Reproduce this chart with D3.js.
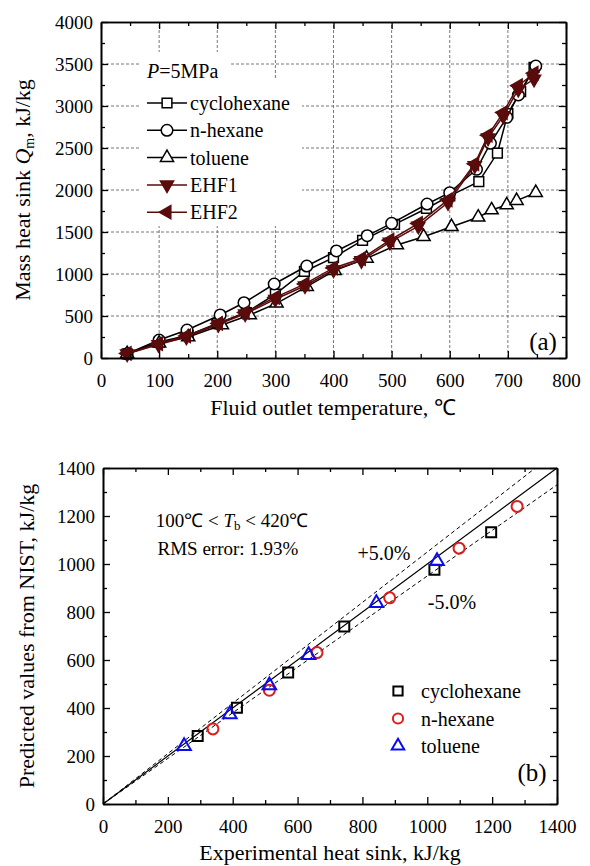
<!DOCTYPE html>
<html>
<head>
<meta charset="utf-8">
<script src="https://cdn.jsdelivr.net/npm/d3@7"></script>
<style>
  body { margin: 0; background: #fff; }
  svg text { font-family: "Liberation Serif", "Times New Roman", Times, serif; fill: #000; }
</style>
</head>
<body>
<script>
// ---------------------------------------------------------------------------
// data for chart (a): mass heat sink vs fluid outlet temperature
// ---------------------------------------------------------------------------
var seriesNamesA = ["cyclohexane", "n-hexane", "toluene", "EHF1", "EHF2"];

var tempCyclo = [45, 100, 150, 200, 250, 300, 350, 400, 450, 505, 560, 600, 650, 682, 700, 722, 745];
var qCyclo = [50, 190, 270, 410, 540, 760, 1030, 1195, 1400, 1590, 1780, 1930, 2100, 2440, 2910, 3170, 3460];

var tempHex = [45, 100, 148, 205, 246, 298, 354, 405, 458, 500, 561, 600, 646, 670, 698, 718, 748];
var qHex = [50, 214, 333, 512, 658, 881, 1095, 1274, 1456, 1603, 1833, 1968, 2246, 2556, 2865, 3131, 3476];

var tempTol = [45, 100, 150, 208, 256, 302, 354, 402, 457, 509, 555, 603, 649, 672, 698, 715, 748];
var qTol = [50, 175, 250, 393, 512, 651, 849, 1040, 1186, 1345, 1444, 1563, 1675, 1762, 1821, 1873, 1968];

var tempEHF1 = [45, 99, 147, 202, 248, 300, 351, 400, 448, 497, 546, 597, 643, 666, 692, 718, 745];
var qEHF1 = [50, 160, 250, 400, 525, 700, 860, 1050, 1160, 1380, 1570, 1850, 2290, 2620, 2880, 3200, 3320];

var tempEHF2 = [45, 99, 147, 202, 248, 300, 351, 400, 448, 497, 546, 597, 643, 666, 692, 718, 745];
var qEHF2 = [55, 170, 262, 412, 542, 722, 882, 1072, 1182, 1402, 1602, 1882, 2312, 2652, 2922, 3242, 3390];

var xTicksA = [0, 100, 200, 300, 400, 500, 600, 700, 800];
var yTicksA = [0, 500, 1000, 1500, 2000, 2500, 3000, 3500, 4000];

// ---------------------------------------------------------------------------
// data for chart (b): predicted vs experimental heat sink
// ---------------------------------------------------------------------------
var seriesNamesB = ["cyclohexane", "n-hexane", "toluene"];

var expCyclo = [292, 413, 571, 744, 1022, 1197];
var predCyclo = [283, 401, 548, 740, 976, 1132];

var expHex = [339, 513, 660, 884, 1098, 1277];
var predHex = [313, 474, 631, 859, 1066, 1240];

var expTol = [250, 391, 513, 634, 843, 1030];
var predTol = [241, 374, 494, 620, 837, 1012];

var ticksB = [0, 200, 400, 600, 800, 1000, 1200, 1400];
var errorBand = [1.05, 0.95];

// ---------------------------------------------------------------------------
var darkRed = "#5a0b0b";
var serif = "'Liberation Serif', 'Times New Roman', Times, serif";
var tickFont = 19;

var svg = d3.select("body").append("svg")
    .attr("width", 590)
    .attr("height", 866)
    .attr("font-family", serif);

function zip(xs, ys) {
    return xs.map(function(x, i){ return {x: x, y: ys[i]}; });
}

// draws 4-sided frame with inward major + minor ticks
function drawFrame(g, x, y, xMajor, yMajor, xMinorStep, yMinorStep) {
    var x0 = x.range()[0], x1 = x.range()[1];
    var y0 = y.range()[0], y1 = y.range()[1];
    var xd = x.domain(), yd = y.domain();
    var xMinor = d3.range(xd[0], xd[1] + 1e-9, xMinorStep).filter(function(v){ return xMajor.indexOf(v) < 0; });
    var yMinor = d3.range(yd[0], yd[1] + 1e-9, yMinorStep).filter(function(v){ return yMajor.indexOf(v) < 0; });
    var fmt = d3.format("d");

    // bottom
    g.append("g").attr("transform", "translate(0," + y0 + ")")
        .call(d3.axisBottom(x).tickValues(xMajor).tickFormat(fmt).tickSizeInner(-7).tickSizeOuter(0).tickPadding(16))
        .call(styleAxis);
    g.append("g").attr("transform", "translate(0," + y0 + ")")
        .call(d3.axisBottom(x).tickValues(xMinor).tickSizeInner(-4).tickSizeOuter(0).tickFormat(""))
        .call(styleAxis);
    // top
    g.append("g").attr("transform", "translate(0," + y1 + ")")
        .call(d3.axisTop(x).tickValues(xMajor).tickSizeInner(-7).tickSizeOuter(0).tickFormat(""))
        .call(styleAxis);
    g.append("g").attr("transform", "translate(0," + y1 + ")")
        .call(d3.axisTop(x).tickValues(xMinor).tickSizeInner(-4).tickSizeOuter(0).tickFormat(""))
        .call(styleAxis);
    // left
    g.append("g").attr("transform", "translate(" + x0 + ",0)")
        .call(d3.axisLeft(y).tickValues(yMajor).tickFormat(fmt).tickSizeInner(-7).tickSizeOuter(0).tickPadding(8))
        .call(styleAxis);
    g.append("g").attr("transform", "translate(" + x0 + ",0)")
        .call(d3.axisLeft(y).tickValues(yMinor).tickSizeInner(-4).tickSizeOuter(0).tickFormat(""))
        .call(styleAxis);
    // right
    g.append("g").attr("transform", "translate(" + x1 + ",0)")
        .call(d3.axisRight(y).tickValues(yMajor).tickSizeInner(-7).tickSizeOuter(0).tickFormat(""))
        .call(styleAxis);
    g.append("g").attr("transform", "translate(" + x1 + ",0)")
        .call(d3.axisRight(y).tickValues(yMinor).tickSizeInner(-4).tickSizeOuter(0).tickFormat(""))
        .call(styleAxis);
}

function styleAxis(sel) {
    sel.attr("font-family", serif).attr("font-size", tickFont);
    sel.select(".domain").attr("stroke", "#000").attr("stroke-width", 1.6);
    sel.selectAll(".tick line").attr("stroke", "#000").attr("stroke-width", 1.3);
    sel.selectAll(".tick text")
        .style("font-family", serif)
        .style("font-size", tickFont + "px")
        .attr("fill", "#000");
}

// ===========================================================================
// chart (a)
// ===========================================================================
var xA = d3.scaleLinear().domain([0, 800]).range([101, 566]);
var yA = d3.scaleLinear().domain([0, 4000]).range([358, 22]);
var gA = svg.append("g");

// dashed grid
gA.selectAll(".vgrid").data(xTicksA.slice(1, -1)).enter().append("line")
    .attr("x1", function(d){ return xA(d); }).attr("x2", function(d){ return xA(d); })
    .attr("y1", yA(0)).attr("y2", yA(4000))
    .attr("stroke", "#777").attr("stroke-width", 1).attr("stroke-dasharray", "3,2");
gA.selectAll(".hgrid").data(yTicksA.slice(1, -1)).enter().append("line")
    .attr("x1", xA(0)).attr("x2", xA(800))
    .attr("y1", function(d){ return yA(d); }).attr("y2", function(d){ return yA(d); })
    .attr("stroke", "#777").attr("stroke-width", 1).attr("stroke-dasharray", "3,2");

// white boxes behind the legend text
gA.append("rect").attr("x", 140).attr("y", 52).attr("width", 90).attr("height", 30).attr("fill", "#fff");
gA.append("rect").attr("x", 140).attr("y", 80).attr("width", 162).attr("height", 146).attr("fill", "#fff");

var seriesA = [
    {name: "cyclohexane", pts: zip(tempCyclo, qCyclo), color: "#000", fill: "#fff", sym: d3.symbolSquare, size: 95, rot: 0},
    {name: "n-hexane", pts: zip(tempHex, qHex), color: "#000", fill: "#fff", sym: d3.symbolCircle, size: 105, rot: 0},
    {name: "toluene", pts: zip(tempTol, qTol), color: "#000", fill: "#fff", sym: d3.symbolTriangle, size: 75, rot: 0},
    {name: "EHF1", pts: zip(tempEHF1, qEHF1), color: darkRed, fill: darkRed, sym: d3.symbolTriangle, size: 75, rot: 180},
    {name: "EHF2", pts: zip(tempEHF2, qEHF2), color: darkRed, fill: darkRed, sym: d3.symbolTriangle, size: 75, rot: -90}
];

var lineA = d3.line().x(function(d){ return xA(d.x); }).y(function(d){ return yA(d.y); });

seriesA.forEach(function(s){
    gA.append("path").datum(s.pts)
        .attr("d", lineA)
        .attr("fill", "none")
        .attr("stroke", s.color)
        .attr("stroke-width", 1.5);
    gA.selectAll(null).data(s.pts).enter().append("path")
        .attr("d", d3.symbol().type(s.sym).size(s.size))
        .attr("transform", function(d){
            return "translate(" + xA(d.x) + "," + yA(d.y) + ") rotate(" + s.rot + ")";
        })
        .attr("fill", s.fill)
        .attr("stroke", s.color)
        .attr("stroke-width", 1.5);
});

// legend (a)
var pText = gA.append("text").attr("x", 147).attr("y", 78).style("font-size", "20px");
pText.append("tspan").style("font-style", "italic").text("P");
pText.append("tspan").text("=5MPa");

seriesA.forEach(function(s, i){
    var ly = 103 + i * 27.3;
    gA.append("line")
        .attr("x1", 147).attr("x2", 187).attr("y1", ly).attr("y2", ly)
        .attr("stroke", s.color).attr("stroke-width", 1.5);
    gA.append("path")
        .attr("d", d3.symbol().type(s.sym).size(s.size))
        .attr("transform", "translate(167," + ly + ") rotate(" + s.rot + ")")
        .attr("fill", s.fill)
        .attr("stroke", s.color)
        .attr("stroke-width", 1.5);
    gA.append("text")
        .attr("x", 190).attr("y", ly + 7)
        .style("font-size", "20px")
        .text(s.name);
});

drawFrame(gA, xA, yA, xTicksA, yTicksA, 50, 250);

gA.append("text").attr("x", 543).attr("y", 350).attr("text-anchor", "middle")
    .style("font-size", "25px").text("(a)");

gA.append("text").attr("x", 333).attr("y", 415).attr("text-anchor", "middle")
    .style("font-size", "22px").text("Fluid outlet temperature, \u2103");

var yLabA = gA.append("text")
    .attr("transform", "translate(30,190) rotate(-90)")
    .attr("text-anchor", "middle")
    .style("font-size", "22px");
yLabA.append("tspan").text("Mass heat sink ");
yLabA.append("tspan").style("font-style", "italic").text("Q");
yLabA.append("tspan").attr("baseline-shift", "-25%").style("font-size", "14px").text("m");
yLabA.append("tspan").text(", kJ/kg");

// ===========================================================================
// chart (b)
// ===========================================================================
var xB = d3.scaleLinear().domain([0, 1400]).range([103, 557]);
var yB = d3.scaleLinear().domain([0, 1400]).range([804, 468]);
var gB = svg.append("g");

// parity line and +/-5% lines, clipped to the plot box
gB.append("clipPath").attr("id", "clipB").append("rect")
    .attr("x", xB(0)).attr("y", yB(1400))
    .attr("width", xB(1400) - xB(0)).attr("height", yB(0) - yB(1400));

gB.append("line")
    .attr("x1", xB(0)).attr("y1", yB(0)).attr("x2", xB(1400)).attr("y2", yB(1400))
    .attr("stroke", "#000").attr("stroke-width", 1.2);

errorBand.forEach(function(f){
    gB.append("line")
        .attr("clip-path", "url(#clipB)")
        .attr("x1", xB(0)).attr("y1", yB(0))
        .attr("x2", xB(1400)).attr("y2", yB(1400 * f))
        .attr("stroke", "#000").attr("stroke-width", 1)
        .attr("stroke-dasharray", "4,3");
});

var seriesB = [
    {name: "cyclohexane", pts: zip(expCyclo, predCyclo), color: "#000", sym: d3.symbolSquare, size: 100},
    {name: "n-hexane", pts: zip(expHex, predHex), color: "#dd1c1c", sym: d3.symbolCircle, size: 95},
    {name: "toluene", pts: zip(expTol, predTol), color: "#0b0bf0", sym: d3.symbolTriangle, size: 80}
];

seriesB.forEach(function(s, i){
    gB.selectAll(null).data(s.pts).enter().append("path")
        .attr("d", d3.symbol().type(s.sym).size(s.size))
        .attr("transform", function(d){ return "translate(" + xB(d.x) + "," + yB(d.y) + ")"; })
        .attr("fill", "none")
        .attr("stroke", s.color)
        .attr("stroke-width", 2);

    var ly = 691 + i * 27.5;
    gB.append("path")
        .attr("d", d3.symbol().type(s.sym).size(s.size * 0.85))
        .attr("transform", "translate(398," + ly + ")")
        .attr("fill", "none")
        .attr("stroke", s.color)
        .attr("stroke-width", 2);
    gB.append("text")
        .attr("x", 421).attr("y", ly + 7)
        .style("font-size", "20px")
        .text(s.name);
});

drawFrame(gB, xB, yB, ticksB, ticksB, 100, 100);

var tbText = gB.append("text").attr("x", 232).attr("y", 527).attr("text-anchor", "middle")
    .style("font-size", "19px");
tbText.append("tspan").text("100\u2103 < ");
tbText.append("tspan").style("font-style", "italic").text("T");
tbText.append("tspan").attr("baseline-shift", "-25%").style("font-size", "13px").text("b");
tbText.append("tspan").text(" < 420\u2103");

gB.append("text").attr("x", 228).attr("y", 555).attr("text-anchor", "middle")
    .style("font-size", "19px").text("RMS error: 1.93%");

gB.append("text").attr("x", 384).attr("y", 560).attr("text-anchor", "middle")
    .style("font-size", "20px").text("+5.0%");
gB.append("text").attr("x", 452).attr("y", 609).attr("text-anchor", "middle")
    .style("font-size", "20px").text("-5.0%");

gB.append("text").attr("x", 532).attr("y", 781).attr("text-anchor", "middle")
    .style("font-size", "25px").text("(b)");

gB.append("text").attr("x", 330).attr("y", 860).attr("text-anchor", "middle")
    .style("font-size", "22px").text("Experimental heat sink, kJ/kg");

gB.append("text")
    .attr("transform", "translate(34,636) rotate(-90)")
    .attr("text-anchor", "middle")
    .style("font-size", "22px")
    .text("Predicted values from NIST, kJ/kg");
</script>
</body>
</html>
